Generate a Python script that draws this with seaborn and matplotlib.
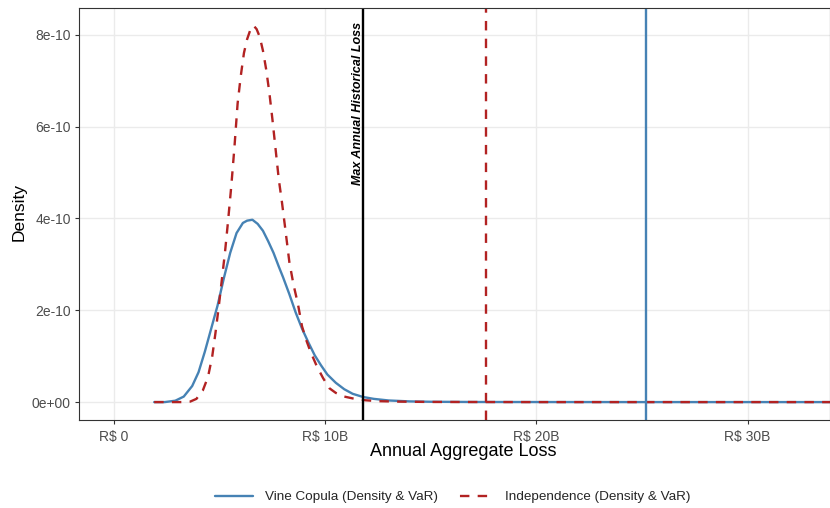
import numpy as np
import pandas as pd
import matplotlib
matplotlib.use("Agg")
import matplotlib.pyplot as plt
import seaborn as sns

# Annual aggregate loss (R$ billions) and density (x 1e-10)
vine_x = [1.9, 2.4, 2.9, 3.3, 3.7, 4.0, 4.3, 4.6, 4.9, 5.2, 5.5, 5.8, 6.1, 6.3, 6.55,
          6.8, 7.05, 7.3, 7.55, 7.8, 8.0, 8.3, 8.6, 8.9, 9.2, 9.5, 9.8, 10.1, 10.5,
          10.9, 11.3, 11.8, 12.3, 13.0, 14.0, 15.0, 17.0, 20.0, 25.0, 30.0, 36.0]
vine_y = [0.0, 0.0, 0.03, 0.12, 0.35, 0.65, 1.1, 1.6, 2.1, 2.7, 3.25, 3.68, 3.9, 3.95, 3.97,
          3.88, 3.73, 3.5, 3.25, 2.95, 2.72, 2.35, 1.95, 1.6, 1.3, 1.02, 0.8, 0.6, 0.42,
          0.28, 0.18, 0.11, 0.07, 0.035, 0.015, 0.007, 0.002, 0.001, 0.0, 0.0, 0.0]

indep_x = [1.9, 2.5, 3.0, 3.3, 3.6, 3.9, 4.2, 4.45, 4.65, 4.8, 4.95, 5.1, 5.25, 5.4, 5.55,
           5.7, 5.85, 6.0, 6.15, 6.3, 6.45, 6.6, 6.75, 6.9, 7.05, 7.2, 7.35, 7.5, 7.65,
           7.8, 7.95, 8.1, 8.3, 8.5, 8.7, 8.9, 9.1, 9.3, 9.6, 9.9, 10.2, 10.5, 10.9,
           11.3, 11.9, 12.5, 13.5, 15.0, 20.0, 25.0, 30.0, 36.0]
indep_y = [0.0, 0.0, 0.0, 0.0, 0.01, 0.07, 0.25, 0.55, 1.0, 1.5, 2.05, 2.65, 3.25, 3.95, 4.7,
           5.55, 6.5, 7.1, 7.6, 7.9, 8.1, 8.2, 8.12, 7.95, 7.65, 7.25, 6.75, 6.15, 5.5,
           4.85, 4.35, 3.8, 3.05, 2.55, 2.15, 1.65, 1.35, 1.1, 0.78, 0.52, 0.3, 0.2, 0.12,
           0.08, 0.04, 0.02, 0.01, 0.003, 0.0, 0.0, 0.0, 0.0]

var_vine = 25.18
var_indep = 17.6
max_hist = 11.78

series_names = ["Vine Copula (Density & VaR)", "Independence (Density & VaR)"]
x_ticks = [0, 10, 20, 30]
x_tick_labels = ["R$ 0", "R$ 10B", "R$ 20B", "R$ 30B"]
y_ticks = [0, 2, 4, 6, 8]
y_tick_labels = ["0e+00", "2e-10", "4e-10", "6e-10", "8e-10"]

df = pd.concat([
    pd.DataFrame({"loss": vine_x, "density": vine_y, "model": series_names[0]}),
    pd.DataFrame({"loss": indep_x, "density": indep_y, "model": series_names[1]}),
], ignore_index=True)

sns.set_theme(style="white")
plt.rcParams["font.family"] = ["Liberation Sans", "DejaVu Sans"]

fig = plt.figure(figsize=(8.3, 5.08), dpi=100)
ax = fig.add_axes([79 / 830, 88 / 508, 751 / 830, 412 / 508])

colors = {series_names[0]: "#4682B4", series_names[1]: "#B22222"}
dashes = {series_names[0]: "", series_names[1]: (4, 3.5)}
sns.lineplot(data=df, x="loss", y="density", hue="model", style="model",
             palette=colors, dashes=dashes, linewidth=1.7, ax=ax, sort=False,
             legend=True)

ax.axvline(var_vine, color="#4682B4", linewidth=1.7)
ax.axvline(var_indep, color="#B22222", linewidth=1.7, linestyle=(0, (4, 3.5)))
ax.axvline(max_hist, color="black", linewidth=1.7)
ax.text(max_hist - 0.24, 8.28, "Max Annual Historical Loss", rotation=90,
        ha="center", va="top", fontsize=9, fontweight="bold", fontstyle="italic",
        color="black")

ax.set_xlim(-1.66, 33.9)
ax.set_ylim(-0.39, 8.58)
ax.set_xticks(x_ticks)
ax.set_xticklabels(x_tick_labels)
ax.set_yticks(y_ticks)
ax.set_yticklabels(y_tick_labels)
ax.grid(True, color="#EBEBEB", linewidth=1.0)
ax.set_axisbelow(True)
for s in ax.spines.values():
    s.set_color("#333333")
    s.set_linewidth(0.8)
ax.tick_params(axis="both", which="major", length=3, width=0.8, color="#333333",
               labelcolor="#4D4D4D", labelsize=10, bottom=True, left=True, pad=3)
ax.tick_params(axis="x", pad=4.5)
ax.set_xlabel("Annual Aggregate Loss", fontsize=13, color="black")
ax.set_ylabel("Density", fontsize=12.5, color="black")
ax.xaxis.set_label_coords((463 - 79) / 751, -(452 - 420) / 412)
ax.xaxis.label.set_va("center")
ax.yaxis.set_label_coords(-(79 - 19) / 751, (420 - 212) / 412)
ax.yaxis.label.set_va("center")

handles, labels = ax.get_legend_handles_labels()
ax.get_legend().remove()
leg = fig.legend(handles, labels, loc="center", bbox_to_anchor=(453 / 830, 1 - 497 / 508),
                 ncol=2, frameon=False, fontsize=9.7, handlelength=2.75,
                 columnspacing=1.25, handletextpad=0.95)
leg_lines = leg.get_lines()
leg_lines[1].set_linestyle((5.4, (4, 3.5)))

fig.savefig("out.png", dpi=100)
